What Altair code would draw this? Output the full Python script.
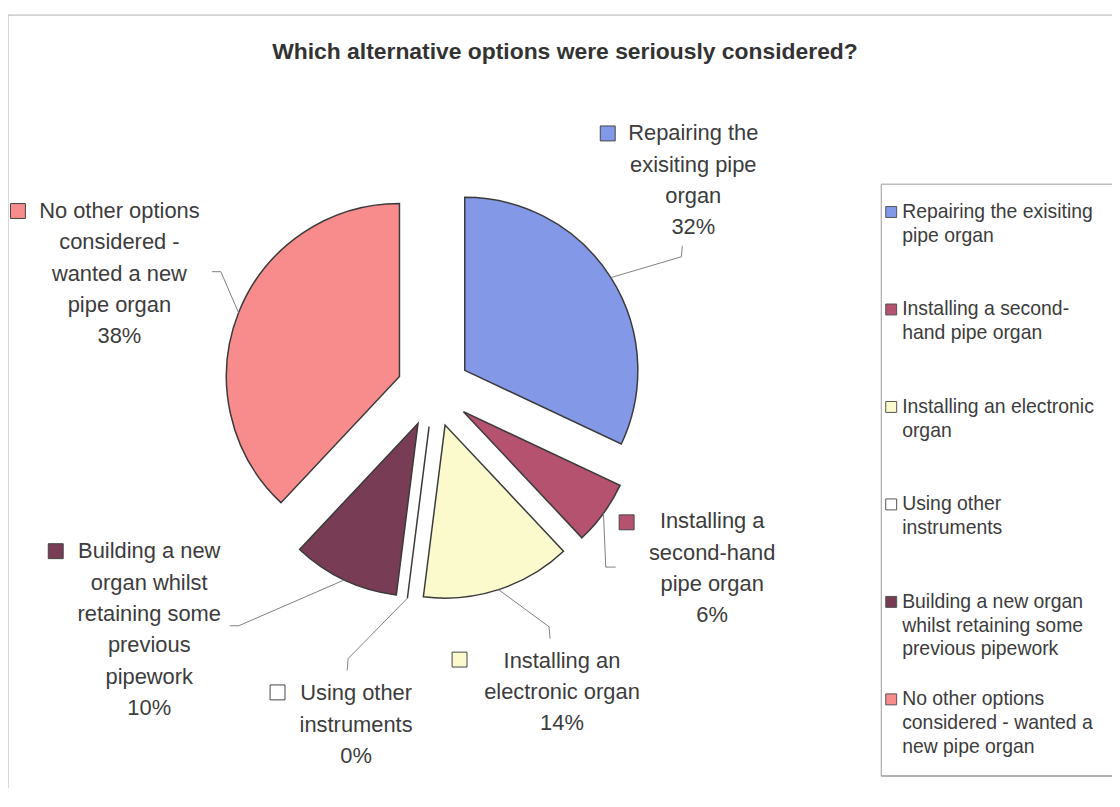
import math
import altair as alt
import pandas as pd

# ---------------- data ----------------
title_text = "Which alternative options were seriously considered?"
categories = [
    "Repairing the exisiting pipe organ",
    "Installing a second-hand pipe organ",
    "Installing an electronic organ",
    "Using other instruments",
    "Building a new organ whilst retaining some previous pipework",
    "No other options considered - wanted a new pipe organ",
]
percent = [32, 6, 14, 0, 10, 38]
pie_label_text = [
    "Repairing the\nexisiting pipe\norgan",
    "Installing a\nsecond-hand\npipe organ",
    "Installing an\nelectronic organ",
    "Using other\ninstruments",
    "Building a new\norgan whilst\nretaining some\nprevious\npipework",
    "No other options\nconsidered -\nwanted a new\npipe organ",
]
legend_text = [
    "Repairing the exisiting\npipe organ",
    "Installing a second-\nhand pipe organ",
    "Installing an electronic\norgan",
    "Using other\ninstruments",
    "Building a new organ\nwhilst retaining some\nprevious pipework",
    "No other options\nconsidered - wanted a\nnew pipe organ",
]

# ---------------- style / layout ----------------
colors = ["#8498E8", "#B45270", "#FAFACD", "#FFFFFF", "#783C55", "#F88C8C"]
W, H = 1110, 780
OFF = 8  # page margin
PIE_CX, PIE_CY = 436 - OFF, 390 - OFF
PIE_R = 174
EXPLODE = 37
# annotation layout (page pixels)
label_pos = [(697, 132), (716, 522), (565, 662), (358, 695), (150, 552), (120, 210)]
marker_pos = [(611, 132), (630, 523), (462, 661), (279, 694), (56, 552), (18, 210)]
leader_elbow = [(685, 256), (609, 568), (552, 628), (350, 660), (240, 627), (222, 271)]
leader_end = [(686, 245), (619, 568), (553, 640), (349, 672), (231, 627), (213, 271)]
LEG_X, LEG_Y0, LEG_STEP = 896 - OFF, 211 - OFF, 98
LABEL_FS, LABEL_LH = 22, 31.5
LEG_FS, LEG_LH = 19.5, 24
BOX_L, BOX_T, BOX_B = 886 - OFF, 183 - OFF, 778 - OFF

df = pd.DataFrame({
    "idx": list(range(len(categories))),
    "category": categories,
    "value": percent,
    "plabel": pie_label_text,
    "llabel": legend_text,
    "lx": [p[0] - OFF for p in label_pos],
    "ly": [p[1] - OFF for p in label_pos],
    "mx": [p[0] - OFF for p in marker_pos],
    "my": [p[1] - OFF for p in marker_pos],
    "kx": [p[0] - OFF for p in leader_elbow],
    "ky": [p[1] - OFF for p in leader_elbow],
    "ex": [p[0] - OFF for p in leader_end],
    "ey": [p[1] - OFF for p in leader_end],
})

xs = alt.Scale(domain=[0, W], range=[0, W], nice=False, zero=False)
ys = alt.Scale(domain=[0, H], range=[0, H], nice=False, zero=False)


def X(f):
    return alt.X(f, type="quantitative", scale=xs, axis=None)


def Y(f):
    return alt.Y(f, type="quantitative", scale=ys, axis=None)


color = alt.Color("category:N", scale=alt.Scale(domain=categories, range=colors), legend=None)

base = (
    alt.Chart(df)
    .transform_joinaggregate(total="sum(value)")
    .transform_window(cum="sum(value)", sort=[alt.SortField("idx")], frame=[None, 0])
    .transform_calculate(
        f0="(datum.cum - datum.value) / datum.total",
        f1="datum.cum / datum.total",
        mid="(datum.cum - datum.value / 2) / datum.total * 2 * PI",
    )
    .transform_calculate(
        cx=f"{PIE_CX} + {EXPLODE} * sin(datum.mid)",
        cy=f"{PIE_CY} - {EXPLODE} * cos(datum.mid)",
    )
    .transform_calculate(
        sx=f"datum.cx + {PIE_R} * sin(datum.mid)",
        sy=f"datum.cy - {PIE_R} * cos(datum.mid)",
        ptext="datum.plabel + '\\n' + datum.value + '%'",
        lyt=f"datum.ly - {LABEL_FS * 0.45}",
        legy=f"{LEG_Y0} + datum.idx * {LEG_STEP}",
    )
    .transform_calculate(legty=f"datum.legy - {LEG_FS * 0.47}")
)

one = alt.Chart(pd.DataFrame({"a": [0]}))

frame_top = one.mark_rule(color="#b0b0b0", strokeWidth=1).encode(
    x=alt.value(0), x2=alt.value(W + 40), y=alt.value(5))
frame_left = one.mark_rule(color="#b0b0b0", strokeWidth=1).encode(
    x=alt.value(0), y=alt.value(5), y2=alt.value(H + 40))

title = one.mark_text(
    font="Liberation Sans", fontSize=23, fontWeight="bold", color="#333333",
    align="center", baseline="middle",
).encode(x=alt.value(568 - OFF), y=alt.value(50 - OFF), text=alt.value(title_text))

arcs = base.mark_arc(radius=PIE_R, stroke="#3a3a3a", strokeWidth=1.5).encode(
    theta=alt.Theta("f0:Q", stack=None, scale=alt.Scale(domain=[0, 1], range=[0, 2 * math.pi])),
    theta2="f1:Q",
    x=X("cx"),
    y=Y("cy"),
    color=color,
)

lead1 = base.mark_rule(color="#808080", strokeWidth=1).encode(
    x=X("sx"), y=Y("sy"), x2="kx:Q", y2="ky:Q")
lead2 = base.mark_rule(color="#808080", strokeWidth=1).encode(
    x=X("kx"), y=Y("ky"), x2="ex:Q", y2="ey:Q")

labels = base.mark_text(
    font="Liberation Sans", fontSize=LABEL_FS, lineHeight=LABEL_LH, lineBreak="\n",
    align="center", baseline="top", color="#3c3c3c",
).encode(x=X("lx"), y=Y("lyt"), text="ptext:N")

markers = base.mark_square(size=225, stroke="#444444", strokeWidth=1, opacity=1).encode(
    x=X("mx"), y=Y("my"), color=color)

box_top = one.mark_rule(color="#999999", strokeWidth=1).encode(
    x=alt.value(BOX_L), x2=alt.value(W + 40), y=alt.value(BOX_T))
box_left = one.mark_rule(color="#999999", strokeWidth=1).encode(
    x=alt.value(BOX_L), y=alt.value(BOX_T), y2=alt.value(BOX_B))
box_bottom = one.mark_rule(color="#999999", strokeWidth=1.5).encode(
    x=alt.value(BOX_L), x2=alt.value(W + 40), y=alt.value(BOX_B))

leg_markers = base.mark_square(size=121, stroke="#555555", strokeWidth=1, opacity=1).encode(
    x=alt.X("lxm:Q", scale=xs, axis=None), y=Y("legy"), color=color
).transform_calculate(lxm=f"{LEG_X}")

leg_text = base.mark_text(
    font="Liberation Sans", fontSize=LEG_FS, lineHeight=LEG_LH, lineBreak="\n",
    align="left", baseline="top", color="#3c3c3c",
).encode(x=alt.X("ltx:Q", scale=xs, axis=None), y=Y("legty"), text="llabel:N"
).transform_calculate(ltx=f"{LEG_X + 11}")

chart = alt.layer(
    frame_top, frame_left, title, arcs, lead1, lead2, labels, markers,
    box_top, box_left, box_bottom, leg_markers, leg_text,
).properties(
    width=W, height=H, padding=0,
    autosize=alt.AutoSizeParams(type="none"),
    background="white",
).configure_view(stroke=None)

chart.save("out.html", embed_options={"renderer": "svg", "actions": False})
